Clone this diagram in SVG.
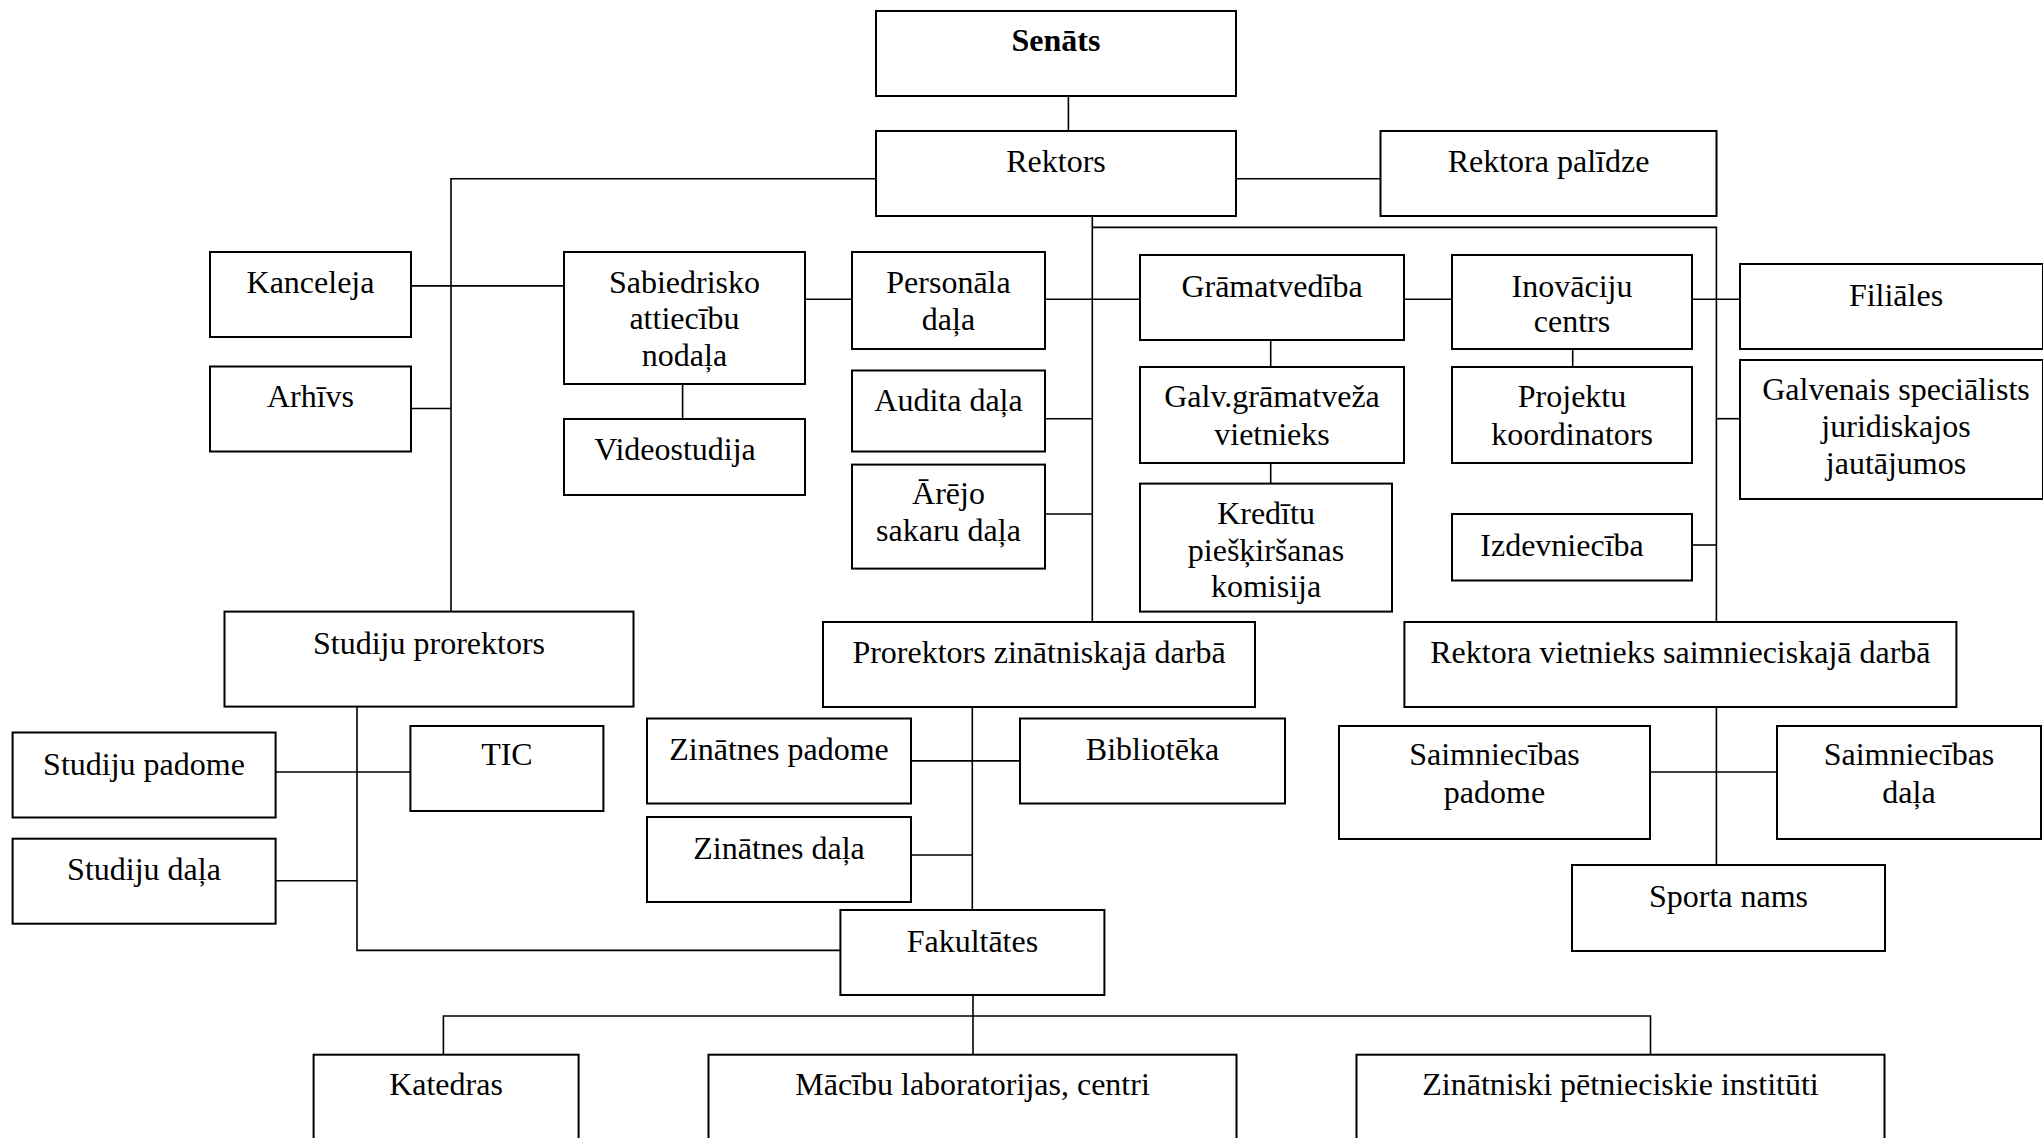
<svg xmlns="http://www.w3.org/2000/svg" width="2043" height="1138" viewBox="0 0 2043 1138">
<style>
.b{fill:#fff;stroke:#000;stroke-width:2}
.c{fill:none;stroke:#000;stroke-width:1.6}
text{font-family:"Liberation Serif","Times New Roman",serif;font-size:32px;fill:#000;text-anchor:middle}
.bold{font-weight:bold}
</style>
<rect width="2043" height="1138" fill="#fff"/>
<g id="connectors">
<path class="c" d="M1068.4,96V131"/>
<path class="c" d="M876,178.7H451V611.6"/>
<path class="c" d="M411,285.9H564"/>
<path class="c" d="M411,408.5H451"/>
<path class="c" d="M682.6,384V419"/>
<path class="c" d="M805,299.3H852"/>
<path class="c" d="M1236,178.7H1380.5"/>
<path class="c" d="M1092.3,216V622"/>
<path class="c" d="M1092.3,227.4H1716.4V622"/>
<path class="c" d="M1045,299.3H1140"/>
<path class="c" d="M1045,418.7H1092.3"/>
<path class="c" d="M1045,514H1092.3"/>
<path class="c" d="M1404,299.3H1452"/>
<path class="c" d="M1692,299.3H1740"/>
<path class="c" d="M1716.4,418.7H1740"/>
<path class="c" d="M1692,545H1716.4"/>
<path class="c" d="M1270.7,340V367"/>
<path class="c" d="M1270.7,463.4V483.6"/>
<path class="c" d="M1572.7,349V367"/>
<path class="c" d="M357,706.7V950.4H840.4"/>
<path class="c" d="M275.7,772H410.4"/>
<path class="c" d="M275.7,880.7H357"/>
<path class="c" d="M972.3,706.7V910"/>
<path class="c" d="M911,760.9H1020"/>
<path class="c" d="M911,855H972.3"/>
<path class="c" d="M1716.4,706.7V865"/>
<path class="c" d="M1650.5,772H1777"/>
<path class="c" d="M973,995V1054.7"/>
<path class="c" d="M443.4,1054.7V1016H1650.5V1054.7"/>
</g>
<g id="senats"><rect class="b" x="876" y="11" width="360" height="85"/><text class="bold" x="1056" y="51.4">Senāts</text></g>
<g id="rektors"><rect class="b" x="876" y="131" width="360" height="85"/><text x="1056" y="172.3">Rektors</text></g>
<g id="rektora-palidze"><rect class="b" x="1380.5" y="131" width="336" height="85"/><text x="1548.5" y="172.3">Rektora palīdze</text></g>
<g id="kanceleja"><rect class="b" x="210" y="252" width="201" height="85"/><text x="310.5" y="292.7">Kanceleja</text></g>
<g id="arhivs"><rect class="b" x="210" y="366.5" width="201" height="85"/><text x="310.5" y="407">Arhīvs</text></g>
<g id="sabiedrisko"><rect class="b" x="564" y="252" width="241" height="132"/><text x="684.5" y="292.7">Sabiedrisko</text><text x="684.5" y="329.3">attiecību</text><text x="684.5" y="365.9">nodaļa</text></g>
<g id="videostudija"><rect class="b" x="564" y="419" width="241" height="76"/><text x="675" y="460">Videostudija</text></g>
<g id="personala"><rect class="b" x="852" y="252" width="193" height="97"/><text x="948.5" y="292.7">Personāla</text><text x="948.5" y="330">daļa</text></g>
<g id="audita"><rect class="b" x="852" y="370.5" width="193" height="81"/><text x="948.5" y="411">Audita daļa</text></g>
<g id="arejo"><rect class="b" x="852" y="464.6" width="193" height="104"/><text x="948.5" y="504">Ārējo</text><text x="948.5" y="541">sakaru daļa</text></g>
<g id="gramatvediba"><rect class="b" x="1140" y="255" width="264" height="85"/><text x="1272" y="296.7">Grāmatvedība</text></g>
<g id="inovaciju"><rect class="b" x="1452" y="255" width="240" height="94"/><text x="1572" y="296.7">Inovāciju</text><text x="1572" y="332.3">centrs</text></g>
<g id="filiales"><rect class="b" x="1740" y="264" width="303" height="85"/><text x="1896" y="305.8">Filiāles</text></g>
<g id="galvenais"><rect class="b" x="1740" y="360" width="303" height="139"/><text x="1896" y="399.5">Galvenais speciālists</text><text x="1896" y="436.5">juridiskajos</text><text x="1896" y="473.5">jautājumos</text></g>
<g id="galv-gram"><rect class="b" x="1140" y="367" width="264" height="96"/><text x="1272" y="407.4">Galv.grāmatveža</text><text x="1272" y="445">vietnieks</text></g>
<g id="projektu"><rect class="b" x="1452" y="367" width="240" height="96"/><text x="1572" y="407.4">Projektu</text><text x="1572" y="445">koordinators</text></g>
<g id="kreditu"><rect class="b" x="1140" y="483.6" width="252" height="128"/><text x="1266" y="524">Kredītu</text><text x="1266" y="560.8">piešķiršanas</text><text x="1266" y="597.2">komisija</text></g>
<g id="izdevnieciba"><rect class="b" x="1452" y="514" width="240" height="66.5"/><text x="1562" y="555.7">Izdevniecība</text></g>
<g id="studiju-prorektors"><rect class="b" x="224.5" y="611.6" width="409" height="95"/><text x="429" y="654">Studiju prorektors</text></g>
<g id="prorektors-zin"><rect class="b" x="823" y="622" width="432" height="85"/><text x="1039" y="662.9">Prorektors zinātniskajā darbā</text></g>
<g id="rektora-vietnieks"><rect class="b" x="1404.4" y="622" width="552" height="85"/><text x="1680.4" y="662.9">Rektora vietnieks saimnieciskajā darbā</text></g>
<g id="studiju-padome"><rect class="b" x="12.6" y="732.5" width="263" height="85"/><text x="144" y="774.6">Studiju padome</text></g>
<g id="tic"><rect class="b" x="410.4" y="726" width="193" height="85"/><text x="506.9" y="765.4">TIC</text></g>
<g id="studiju-dala"><rect class="b" x="12.6" y="838.7" width="263" height="85"/><text x="144" y="879.6">Studiju daļa</text></g>
<g id="zinatnes-padome"><rect class="b" x="647" y="718.5" width="264" height="85"/><text x="779" y="759.8">Zinātnes padome</text></g>
<g id="biblioteka"><rect class="b" x="1020" y="718.5" width="265" height="85"/><text x="1152.5" y="759.8">Bibliotēka</text></g>
<g id="zinatnes-dala"><rect class="b" x="647" y="817" width="264" height="85"/><text x="779" y="859.4">Zinātnes daļa</text></g>
<g id="saimn-padome"><rect class="b" x="1339" y="726" width="311" height="113"/><text x="1494.5" y="765.4">Saimniecības</text><text x="1494.5" y="803">padome</text></g>
<g id="saimn-dala"><rect class="b" x="1777" y="726" width="264" height="113"/><text x="1909" y="765.4">Saimniecības</text><text x="1909" y="803">daļa</text></g>
<g id="sporta-nams"><rect class="b" x="1572" y="865" width="313" height="86"/><text x="1728.5" y="907.3">Sporta nams</text></g>
<g id="fakultates"><rect class="b" x="840.4" y="910" width="264" height="85"/><text x="972.4" y="951.5">Fakultātes</text></g>
<g id="katedras"><rect class="b" x="313.6" y="1054.7" width="265" height="100"/><text x="446" y="1095.3">Katedras</text></g>
<g id="macibu"><rect class="b" x="708.5" y="1054.7" width="528" height="100"/><text x="972.5" y="1095.3">Mācību laboratorijas, centri</text></g>
<g id="zinatniski"><rect class="b" x="1356.5" y="1054.7" width="528" height="100"/><text x="1620.5" y="1095.3">Zinātniski pētnieciskie institūti</text></g>
</svg>
